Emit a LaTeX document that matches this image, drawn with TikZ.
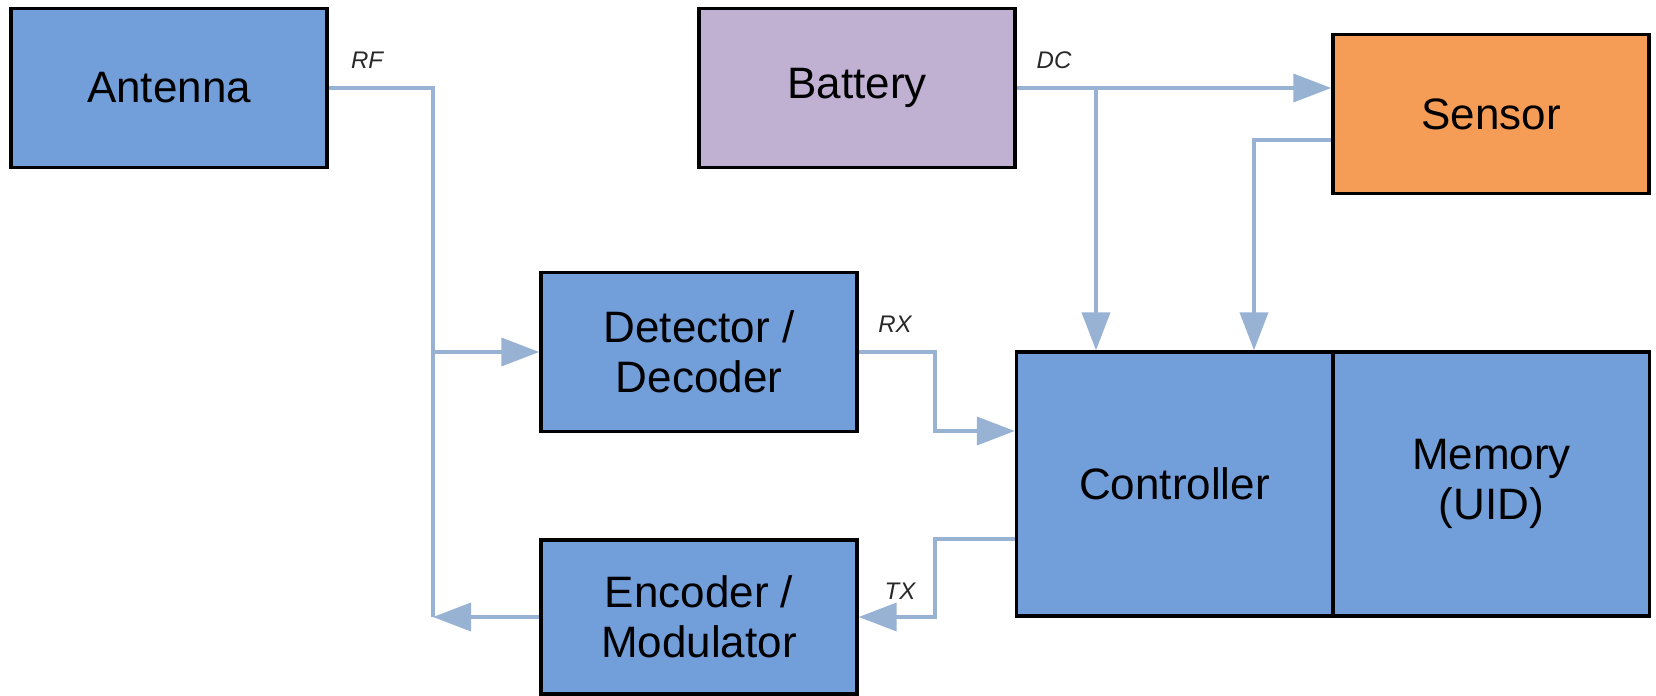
\documentclass[tikz,border=0pt]{standalone}
\usepackage{fontspec}
\setmainfont{Liberation Sans}
\usetikzlibrary{arrows.meta,calc}
\definecolor{boxblue}{RGB}{114,158,218}
\definecolor{boxpurple}{RGB}{192,176,210}
\definecolor{boxorange}{RGB}{245,157,86}
\definecolor{wirec}{RGB}{152,178,212}
\definecolor{lbl}{RGB}{40,40,40}
\begin{document}
\begin{tikzpicture}[x=0.5pt,y=-0.5pt,
  blk/.style={draw=black, line width=1.7pt, minimum width=158pt, minimum height=79.5pt,
    inner sep=0pt, align=center, font=\fontsize{22}{25}\selectfont},
  wire/.style={draw=wirec, line width=1.9pt},
  arr/.style={wire, -{Triangle[length=19pt,width=14pt]}},
  sig/.style={font=\fontsize{12}{14}\selectfont\itshape, text=lbl}]
\useasboundingbox (0,0) rectangle (1656,696);

\node[blk, fill=boxblue] (ant) at (169,88) {Antenna};
\node[blk, fill=boxpurple] (bat) at (857,88) {Battery};
\node[blk, fill=boxorange] (sen) at (1491,114) {Sensor};
\node[blk, fill=boxblue] (det) at (699,352) {Detector /\\Decoder};
\node[blk, fill=boxblue, minimum height=132pt] (ctl) at (1174.5,484) {Controller};
\node[blk, fill=boxblue, minimum height=132pt] (mem) at (1491.5,484) {Memory\\(UID)};
\node[blk, fill=boxblue, minimum height=77pt] (enc) at (699,617) {Encoder /\\Modulator};

\coordinate (rfc) at (433,88);
\coordinate (rfb) at (433,617);
\coordinate (dcj) at (1096,88);
\coordinate (sj) at (1254,140);
\coordinate (rxj) at (935,352);
\coordinate (rxb) at (935,431);
\coordinate (txj) at (935,539);
\coordinate (txb) at (935,617);

\draw[wire] (ant.east) -- (rfc) -- (rfb);
\draw[arr] (rfc |- det.west) -- (det.west);
\draw[arr] (enc.west) -- (rfb);

\draw[arr] (bat.east) -- (sen.west |- bat.east);
\draw[arr] (dcj) -- (dcj |- ctl.north);
\draw[arr] (sen.west |- sj) -- (sj) -- (sj |- ctl.north);

\draw[arr] (det.east) -- (rxj) -- (rxb) -- (rxb -| ctl.west);
\draw[arr] (txj -| ctl.west) -- (txj) -- (txb) -- (enc.east);

\node[sig] (rf) at (367,60) {RF};
\node[sig] (dc) at (1054,60) {DC};
\node[sig] (rx) at (895,324) {RX};
\node[sig] (tx) at (900,591) {TX};
\end{tikzpicture}
\end{document}
